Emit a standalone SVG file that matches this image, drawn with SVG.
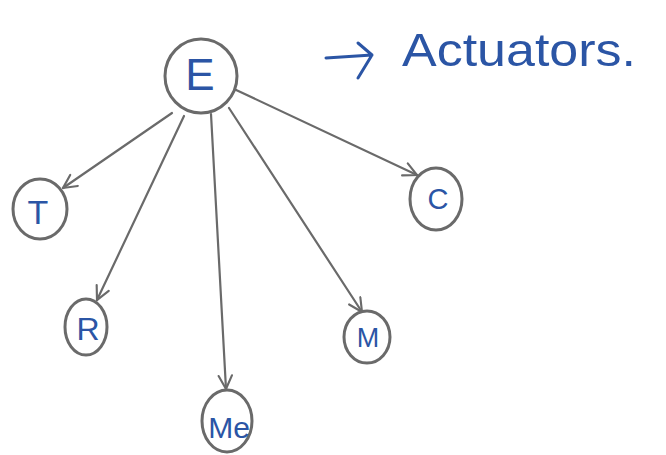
<svg xmlns="http://www.w3.org/2000/svg" width="666" height="455" viewBox="0 0 666 455">
<defs>
<style>
.node{fill:#ffffff;stroke:#6a6a6a;stroke-width:3}
.edge{fill:none;stroke:#6a6a6a;stroke-width:2.2;stroke-linecap:round;marker-end:url(#arr)}
.lbl{fill:#2b55a5;font-family:"Liberation Sans",Arial,sans-serif;text-anchor:middle;dominant-baseline:central}
</style>
<marker id="arr" viewBox="0 0 12 12" refX="11" refY="6" markerWidth="16" markerHeight="16" markerUnits="userSpaceOnUse" orient="auto">
<path d="M1,1 L11,6 L1,11" fill="none" stroke="#6a6a6a" stroke-width="1.6" stroke-linecap="round"/>
</marker>
</defs>
<rect width="666" height="455" fill="#ffffff"/>
<g id="connectors">
<line class="edge" x1="172" y1="113" x2="63" y2="188"/>
<line class="edge" x1="184" y1="116" x2="97" y2="300"/>
<line class="edge" x1="211" y1="114" x2="226" y2="389"/>
<line class="edge" x1="229" y1="108" x2="362" y2="312"/>
<line class="edge" x1="234" y1="89" x2="417" y2="175"/>
</g>
<g id="node-E"><ellipse class="node" cx="201" cy="76" rx="36" ry="37"/><text class="lbl" x="200" y="74" font-size="44">E</text></g>
<g id="node-T"><ellipse class="node" cx="40" cy="209" rx="27" ry="30"/><text class="lbl" x="38" y="212" font-size="34">T</text></g>
<g id="node-R"><ellipse class="node" cx="86" cy="327" rx="21" ry="28"/><text class="lbl" x="88" y="329" font-size="32">R</text></g>
<g id="node-Me"><ellipse class="node" cx="227" cy="421" rx="25" ry="31"/><text class="lbl" x="229" y="427" font-size="30">Me</text></g>
<g id="node-M"><ellipse class="node" cx="367" cy="337" rx="23" ry="26"/><text class="lbl" x="368" y="338" font-size="27">M</text></g>
<g id="node-C"><ellipse class="node" cx="436" cy="199" rx="26" ry="31"/><text class="lbl" x="438" y="199" font-size="29">C</text></g>
<g id="note">
<path d="M326,58 L372,55 M358,43 L372,55 L358,78" fill="none" stroke="#2b55a5" stroke-width="3" stroke-linecap="round" stroke-linejoin="round"/>
<text x="402" y="66" font-size="46" textLength="234" lengthAdjust="spacingAndGlyphs" fill="#2b55a5" font-family="Liberation Sans,Arial,sans-serif">Actuators.</text>
</g>
</svg>
